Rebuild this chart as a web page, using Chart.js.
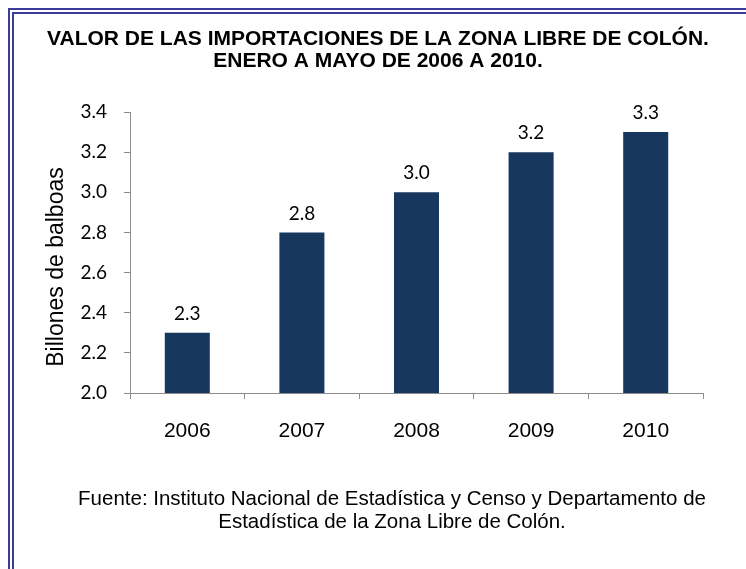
<!DOCTYPE html>
<html>
<head>
<meta charset="utf-8">
<script src="https://cdn.jsdelivr.net/npm/chart.js@4.4.1/dist/chart.umd.min.js"></script>
<style>
  html, body { margin: 0; padding: 0; background: #fff; }
  #wrap { position: relative; width: 746px; height: 569px; overflow: hidden; }
  #frame {
    position: absolute; left: 8px; top: 8px; width: 800px; height: 600px;
    border-left: 6px double #3b3b9c; border-top: 6px double #3b3b9c;
  }
  #chart { position: absolute; left: 0; top: 0; }
</style>
</head>
<body>
<div id="wrap">
  <div id="frame"></div>
  <canvas id="chart" width="746" height="569"></canvas>
</div>
<script>
const years = ['2006', '2007', '2008', '2009', '2010'];
const importValues = [2.3, 2.8, 3.0, 3.2, 3.3];
const titleLines = [
  'VALOR DE LAS IMPORTACIONES DE LA ZONA LIBRE DE COLÓN.',
  'ENERO A MAYO DE 2006 A 2010.'
];
const sourceLines = [
  'Fuente: Instituto Nacional de Estadística y Censo y Departamento de',
  'Estadística de la Zona Libre de Colón.'
];
const yAxisTitle = 'Billones de balboas';

const arial = "'Liberation Sans', Arial, sans-serif";
const calibri = "Lato, 'Open Sans', sans-serif";
const axisGray = '#8c8c8c';

// title, source note, rotated axis title and the value labels over the bars
const textPlugin = {
  id: 'textPlugin',
  afterDatasetsDraw(chart) {
    const ctx = chart.ctx;
    const meta = chart.getDatasetMeta(0);

    ctx.save();
    ctx.fillStyle = '#000';
    ctx.textAlign = 'center';
    ctx.textBaseline = 'middle';

    ctx.font = '19px ' + calibri;
    meta.data.forEach((bar, i) => {
      ctx.fillText(importValues[i].toFixed(1), bar.x, bar.y - 19);
    });

    ctx.font = 'bold 21px ' + arial;
    titleLines.forEach((line, i) => ctx.fillText(line, 378, 39 + i * 22));

    ctx.font = '20.5px ' + arial;
    sourceLines.forEach((line, i) => ctx.fillText(line, 392, 499 + i * 23));

    ctx.font = '23px ' + arial;
    ctx.textBaseline = 'alphabetic';
    ctx.translate(63, 267);
    ctx.rotate(-Math.PI / 2);
    ctx.fillText(yAxisTitle, 0, 0);
    ctx.restore();
  }
};

new Chart(document.getElementById('chart'), {
  type: 'bar',
  data: {
    labels: years,
    datasets: [{
      data: importValues,
      backgroundColor: '#17375e',
      borderWidth: 0,
      barPercentage: 0.393,
      categoryPercentage: 1
    }]
  },
  options: {
    responsive: false,
    animation: false,
    devicePixelRatio: 1,
    layout: { padding: { left: 0, right: 43, top: 112, bottom: 126 } },
    plugins: {
      legend: { display: false },
      tooltip: { enabled: false }
    },
    scales: {
      x: {
        afterFit(scale) { scale.height = 50; },
        grid: { offset: true, drawOnChartArea: false, drawTicks: true, tickLength: 6, color: axisGray },
        border: { color: axisGray, width: 1 },
        ticks: { color: '#000', font: { family: arial, size: 21 }, padding: 19.5 }
      },
      y: {
        min: 2.0,
        max: 3.4,
        afterFit(scale) { scale.width = 130; },
        grid: { drawOnChartArea: false, drawTicks: true, tickLength: 6, color: axisGray },
        border: { color: axisGray, width: 1 },
        ticks: {
          stepSize: 0.2,
          color: '#000',
          font: { family: calibri, size: 19 },
          padding: 17,
          callback: v => Number(v).toFixed(1)
        }
      }
    }
  },
  plugins: [textPlugin]
});
</script>
</body>
</html>
